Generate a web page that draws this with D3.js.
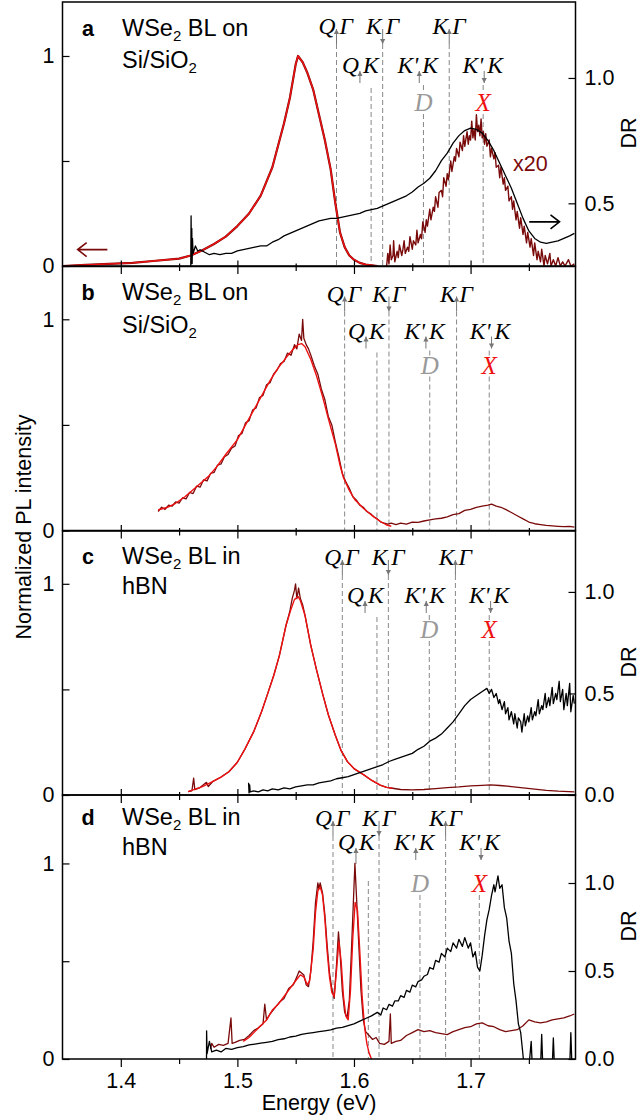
<!DOCTYPE html>
<meta charset="utf-8">
<head>
<style>
  body { margin: 0; background: #fff; }
  svg text { font-family: "Liberation Sans", Arial, sans-serif; }
  .ann { font-family: "Liberation Serif", "Times New Roman", serif; font-style: italic; }
</style>
</head>
<body>
<div id="chart"></div>
<script src="https://d3js.org/d3.v7.min.js"></script>
<script>
// ---- data: [energy (eV), value] ----
// panel a
const aFit = [[1.35,0],[1.37,0.005],[1.39,0.01],[1.41,0.015],[1.43,0.025],[1.45,0.035],[1.46,0.05],[1.47,0.075],[1.48,0.105],[1.49,0.14],[1.50,0.19],[1.51,0.25],[1.52,0.335],[1.53,0.47],[1.54,0.68],[1.545,0.80],[1.55,0.96],[1.552,1.0],[1.556,0.97],[1.56,0.92],[1.565,0.84],[1.57,0.72],[1.575,0.60],[1.58,0.46],[1.584,0.30],[1.588,0.16],[1.592,0.09],[1.596,0.05],[1.60,0.03],[1.605,0.015],[1.61,0.007],[1.62,0]];
const aX20 = [[1.628,0],[1.629,0.06],[1.630,0.01],[1.631,0.10],[1.632,0.03],[1.6335,0.05],[1.634,0.12],[1.635,0.02],[1.637,0.07],[1.638,0.04],[1.639,0.10],[1.641,0.05],[1.642,0.08],[1.643,0.12],[1.644,0.06],[1.646,0.09],[1.647,0.07],[1.648,0.14],[1.650,0.08],[1.651,0.12],[1.653,0.10],[1.654,0.17],[1.655,0.11],[1.657,0.15],[1.658,0.13],[1.659,0.21],[1.661,0.16],[1.662,0.22],[1.663,0.19],[1.665,0.27],[1.666,0.22],[1.668,0.28],[1.669,0.26],[1.670,0.33],[1.672,0.28],[1.673,0.35],[1.675,0.36],[1.676,0.33],[1.677,0.42],[1.679,0.38],[1.680,0.44],[1.681,0.41],[1.683,0.50],[1.684,0.45],[1.686,0.52],[1.687,0.50],[1.688,0.56],[1.690,0.52],[1.691,0.59],[1.693,0.55],[1.694,0.62],[1.695,0.57],[1.697,0.64],[1.698,0.58],[1.699,0.62],[1.700,0.60],[1.701,0.69],[1.702,0.61],[1.703,0.65],[1.704,0.60],[1.705,0.72],[1.706,0.64],[1.707,0.67],[1.708,0.62],[1.709,0.70],[1.710,0.61],[1.711,0.64],[1.712,0.58],[1.713,0.63],[1.714,0.57],[1.716,0.60],[1.717,0.52],[1.718,0.56],[1.720,0.51],[1.721,0.54],[1.722,0.47],[1.724,0.48],[1.725,0.42],[1.726,0.47],[1.728,0.39],[1.729,0.42],[1.730,0.36],[1.732,0.38],[1.733,0.31],[1.735,0.33],[1.736,0.27],[1.737,0.31],[1.739,0.22],[1.740,0.26],[1.742,0.18],[1.743,0.23],[1.745,0.15],[1.746,0.19],[1.748,0.11],[1.749,0.16],[1.751,0.09],[1.752,0.13],[1.754,0.05],[1.755,0.11],[1.757,0.03],[1.758,0.07],[1.760,0.02],[1.761,0.08],[1.763,0],[1.764,0.05],[1.766,0.01],[1.768,0.06],[1.769,0],[1.771,0.03],[1.773,0],[1.775,0.04],[1.777,0],[1.779,0.02],[1.781,0],[1.784,0.03],[1.786,0],[1.789,0.01]];
const aDR = [[1.4600,0.24],[1.4603,0.45],[1.4606,0.26],[1.4609,0.40],[1.4612,0.26],[1.4615,0.36],[1.462,0.30],[1.464,0.33],[1.466,0.31],[1.468,0.315],[1.472,0.305],[1.476,0.295],[1.480,0.30],[1.485,0.295],[1.490,0.30],[1.495,0.30],[1.500,0.31],[1.505,0.315],[1.510,0.32],[1.515,0.325],[1.520,0.33],[1.525,0.33],[1.530,0.345],[1.535,0.355],[1.540,0.37],[1.545,0.38],[1.550,0.39],[1.555,0.40],[1.560,0.41],[1.565,0.42],[1.570,0.43],[1.575,0.435],[1.580,0.44],[1.585,0.44],[1.590,0.445],[1.595,0.45],[1.600,0.455],[1.605,0.46],[1.610,0.47],[1.615,0.475],[1.620,0.48],[1.625,0.49],[1.630,0.50],[1.635,0.51],[1.640,0.52],[1.645,0.53],[1.650,0.545],[1.655,0.565],[1.660,0.58],[1.665,0.60],[1.670,0.63],[1.675,0.67],[1.680,0.70],[1.685,0.74],[1.690,0.77],[1.695,0.79],[1.700,0.80],[1.705,0.795],[1.710,0.78],[1.715,0.75],[1.720,0.71],[1.725,0.66],[1.730,0.61],[1.735,0.56],[1.740,0.50],[1.745,0.44],[1.750,0.39],[1.755,0.36],[1.760,0.345],[1.765,0.34],[1.770,0.345],[1.775,0.35],[1.780,0.36],[1.785,0.37],[1.789,0.38]];

// panel b
const bFit = [[1.432,0.097],[1.44,0.11],[1.447,0.129],[1.455,0.16],[1.465,0.207],[1.475,0.255],[1.482,0.30],[1.49,0.36],[1.50,0.43],[1.507,0.50],[1.514,0.57],[1.521,0.64],[1.528,0.71],[1.535,0.77],[1.542,0.82],[1.548,0.86],[1.552,0.88],[1.555,0.885],[1.558,0.87],[1.563,0.81],[1.568,0.73],[1.573,0.635],[1.578,0.53],[1.584,0.41],[1.588,0.31],[1.591,0.25],[1.596,0.19],[1.601,0.144],[1.608,0.105],[1.615,0.073],[1.622,0.045],[1.628,0.026],[1.632,0.02]];
const bPL = [[1.432,0.09],[1.435,0.11],[1.438,0.10],[1.441,0.12],[1.444,0.115],[1.447,0.135],[1.450,0.13],[1.453,0.155],[1.456,0.15],[1.459,0.18],[1.462,0.175],[1.465,0.21],[1.468,0.205],[1.471,0.24],[1.474,0.235],[1.477,0.27],[1.480,0.275],[1.483,0.31],[1.486,0.315],[1.489,0.35],[1.492,0.36],[1.495,0.39],[1.498,0.40],[1.501,0.45],[1.504,0.46],[1.507,0.51],[1.510,0.52],[1.513,0.57],[1.516,0.58],[1.519,0.63],[1.522,0.64],[1.525,0.69],[1.528,0.70],[1.531,0.74],[1.534,0.76],[1.537,0.79],[1.540,0.80],[1.543,0.84],[1.546,0.83],[1.549,0.88],[1.551,0.86],[1.553,0.93],[1.555,0.90],[1.556,1.0],[1.557,0.91],[1.559,0.88],[1.561,0.86],[1.563,0.83],[1.566,0.78],[1.569,0.74],[1.572,0.67],[1.575,0.62],[1.578,0.54],[1.581,0.50],[1.584,0.42],[1.587,0.35],[1.590,0.27],[1.593,0.23],[1.596,0.20],[1.599,0.16],[1.602,0.145],[1.605,0.12],[1.608,0.11],[1.611,0.09],[1.614,0.08],[1.617,0.065],[1.620,0.055],[1.623,0.04],[1.626,0.035],[1.629,0.03],[1.632,0.035],[1.636,0.028],[1.640,0.035],[1.645,0.03],[1.650,0.04],[1.655,0.038],[1.660,0.045],[1.665,0.05],[1.670,0.055],[1.675,0.058],[1.680,0.065],[1.685,0.075],[1.690,0.08],[1.695,0.095],[1.700,0.10],[1.705,0.11],[1.710,0.115],[1.715,0.12],[1.718,0.125],[1.722,0.115],[1.726,0.11],[1.730,0.10],[1.735,0.085],[1.740,0.07],[1.745,0.055],[1.750,0.04],[1.755,0.032],[1.760,0.028],[1.765,0.024],[1.770,0.022],[1.775,0.02],[1.780,0.018],[1.785,0.02],[1.789,0.016]];

// panel c
const cFit = [[1.4577,0.016],[1.465,0.03],[1.47,0.04],[1.4787,0.063],[1.486,0.085],[1.4927,0.11],[1.50,0.155],[1.5068,0.221],[1.514,0.30],[1.5208,0.395],[1.526,0.48],[1.5313,0.568],[1.536,0.66],[1.5418,0.805],[1.546,0.88],[1.5489,0.925],[1.552,0.94],[1.5541,0.92],[1.558,0.85],[1.5629,0.71],[1.568,0.59],[1.5734,0.473],[1.578,0.38],[1.5839,0.284],[1.589,0.21],[1.5944,0.158],[1.60,0.125],[1.6085,0.095],[1.615,0.07],[1.6225,0.047],[1.628,0.036],[1.633,0.032]];
const cPL = [[1.4577,0.016],[1.461,0.02],[1.4625,0.08],[1.4635,0.025],[1.468,0.035],[1.4735,0.06],[1.475,0.04],[1.4787,0.063],[1.486,0.085],[1.4927,0.11],[1.50,0.155],[1.5068,0.221],[1.514,0.30],[1.5208,0.395],[1.526,0.48],[1.5313,0.568],[1.536,0.66],[1.5418,0.805],[1.545,0.87],[1.547,0.93],[1.549,0.97],[1.5499,1.0],[1.551,0.93],[1.5525,0.98],[1.554,0.93],[1.556,0.90],[1.558,0.85],[1.5629,0.71],[1.568,0.59],[1.5734,0.473],[1.578,0.38],[1.5839,0.284],[1.589,0.21],[1.5944,0.158],[1.60,0.125],[1.6085,0.095],[1.615,0.07],[1.6225,0.047],[1.628,0.036],[1.633,0.032],[1.64,0.026],[1.65,0.024],[1.66,0.026],[1.67,0.03],[1.68,0.035],[1.69,0.038],[1.70,0.043],[1.71,0.046],[1.717,0.048],[1.725,0.045],[1.735,0.04],[1.745,0.034],[1.755,0.028],[1.765,0.022],[1.775,0.018],[1.789,0.015]];
const cDR = [[1.5096,0.06],[1.5100,0.01],[1.5105,0.05],[1.511,0.015],[1.514,0.02],[1.518,0.015],[1.522,0.025],[1.526,0.02],[1.530,0.03],[1.535,0.025],[1.540,0.035],[1.545,0.03],[1.550,0.04],[1.555,0.045],[1.560,0.05],[1.565,0.05],[1.570,0.06],[1.575,0.065],[1.580,0.07],[1.585,0.08],[1.590,0.085],[1.595,0.09],[1.600,0.10],[1.605,0.11],[1.610,0.12],[1.615,0.13],[1.620,0.14],[1.625,0.15],[1.630,0.165],[1.635,0.175],[1.640,0.185],[1.645,0.195],[1.650,0.205],[1.655,0.225],[1.660,0.24],[1.665,0.265],[1.670,0.28],[1.675,0.30],[1.680,0.33],[1.685,0.36],[1.690,0.40],[1.695,0.44],[1.700,0.47],[1.705,0.49],[1.710,0.51],[1.714,0.525],[1.716,0.50],[1.718,0.52],[1.720,0.48],[1.722,0.50],[1.724,0.45],[1.725,0.47],[1.727,0.42],[1.729,0.46],[1.730,0.40],[1.732,0.43],[1.733,0.37],[1.735,0.41],[1.737,0.35],[1.738,0.40],[1.740,0.33],[1.741,0.38],[1.743,0.36],[1.744,0.31],[1.746,0.40],[1.747,0.34],[1.749,0.39],[1.750,0.36],[1.752,0.43],[1.753,0.37],[1.755,0.41],[1.756,0.39],[1.758,0.47],[1.759,0.40],[1.761,0.44],[1.762,0.42],[1.764,0.50],[1.765,0.43],[1.767,0.48],[1.768,0.44],[1.770,0.53],[1.771,0.45],[1.773,0.50],[1.774,0.47],[1.776,0.56],[1.777,0.46],[1.779,0.52],[1.780,0.42],[1.782,0.50],[1.783,0.44],[1.785,0.55],[1.786,0.41],[1.788,0.49],[1.789,0.45]];

// panel d
const dFit = [[1.505,0.09],[1.510,0.11],[1.515,0.14],[1.520,0.17],[1.525,0.20],[1.530,0.25],[1.535,0.28],[1.540,0.32],[1.545,0.36],[1.550,0.40],[1.554,0.43],[1.557,0.42],[1.560,0.38],[1.562,0.40],[1.565,0.56],[1.567,0.75],[1.569,0.86],[1.571,0.88],[1.573,0.84],[1.575,0.72],[1.577,0.55],[1.579,0.42],[1.581,0.34],[1.583,0.32],[1.585,0.45],[1.587,0.60],[1.589,0.50],[1.591,0.32],[1.593,0.22],[1.595,0.20],[1.597,0.35],[1.599,0.62],[1.601,0.80],[1.603,0.76],[1.605,0.55],[1.607,0.32],[1.609,0.17],[1.611,0.08],[1.613,0.03],[1.615,0]];
const dPL = [[1.477,0.05],[1.478,0.08],[1.480,0.06],[1.484,0.075],[1.488,0.07],[1.492,0.08],[1.4945,0.21],[1.4955,0.08],[1.498,0.085],[1.502,0.095],[1.506,0.10],[1.510,0.12],[1.514,0.145],[1.518,0.16],[1.522,0.18],[1.5235,0.28],[1.525,0.20],[1.528,0.23],[1.532,0.26],[1.536,0.29],[1.540,0.31],[1.544,0.36],[1.548,0.38],[1.551,0.42],[1.553,0.45],[1.555,0.44],[1.557,0.43],[1.559,0.38],[1.561,0.37],[1.563,0.45],[1.565,0.60],[1.567,0.80],[1.569,0.90],[1.570,0.87],[1.571,0.90],[1.573,0.85],[1.575,0.74],[1.577,0.58],[1.579,0.44],[1.581,0.36],[1.583,0.31],[1.585,0.48],[1.5867,0.65],[1.588,0.55],[1.590,0.35],[1.592,0.24],[1.594,0.21],[1.596,0.30],[1.598,0.58],[1.6008,1.0],[1.602,0.85],[1.604,0.60],[1.606,0.35],[1.608,0.20],[1.610,0.14],[1.613,0.12],[1.616,0.10],[1.619,0.11],[1.622,0.08],[1.626,0.075],[1.630,0.09],[1.6312,0.23],[1.632,0.08],[1.636,0.09],[1.640,0.095],[1.645,0.12],[1.650,0.135],[1.655,0.15],[1.660,0.14],[1.665,0.145],[1.670,0.135],[1.675,0.13],[1.680,0.125],[1.685,0.14],[1.690,0.15],[1.695,0.16],[1.700,0.165],[1.705,0.18],[1.710,0.185],[1.715,0.17],[1.720,0.165],[1.725,0.15],[1.730,0.14],[1.735,0.145],[1.740,0.15],[1.745,0.17],[1.750,0.20],[1.755,0.19],[1.760,0.185],[1.765,0.19],[1.770,0.20],[1.775,0.205],[1.780,0.21],[1.785,0.22],[1.789,0.23]];
const dDR = [[1.4735,-0.05],[1.4736,0.16],[1.474,0.03],[1.476,0.10],[1.478,0.04],[1.482,0.05],[1.486,0.04],[1.490,0.06],[1.495,0.055],[1.500,0.065],[1.505,0.07],[1.510,0.08],[1.515,0.085],[1.520,0.09],[1.525,0.095],[1.530,0.10],[1.535,0.11],[1.540,0.115],[1.545,0.125],[1.550,0.13],[1.555,0.14],[1.560,0.145],[1.565,0.15],[1.570,0.155],[1.575,0.16],[1.580,0.165],[1.585,0.175],[1.590,0.18],[1.595,0.19],[1.600,0.20],[1.605,0.215],[1.610,0.23],[1.615,0.245],[1.620,0.265],[1.623,0.25],[1.625,0.29],[1.628,0.28],[1.630,0.31],[1.633,0.30],[1.635,0.33],[1.638,0.33],[1.640,0.36],[1.643,0.35],[1.645,0.39],[1.648,0.38],[1.650,0.42],[1.653,0.41],[1.655,0.44],[1.658,0.45],[1.660,0.47],[1.663,0.48],[1.665,0.52],[1.668,0.51],[1.670,0.56],[1.673,0.55],[1.675,0.60],[1.678,0.58],[1.680,0.63],[1.683,0.61],[1.685,0.66],[1.688,0.63],[1.690,0.68],[1.693,0.64],[1.695,0.69],[1.698,0.63],[1.700,0.66],[1.702,0.58],[1.704,0.61],[1.706,0.52],[1.708,0.50],[1.710,0.59],[1.712,0.70],[1.714,0.79],[1.716,0.85],[1.718,0.93],[1.720,0.99],[1.721,0.95],[1.7235,1.04],[1.725,0.97],[1.727,0.99],[1.729,0.86],[1.731,0.80],[1.733,0.67],[1.735,0.60],[1.737,0.43],[1.739,0.33],[1.741,0.20],[1.743,0.15],[1.745,0.02],[1.746,-0.05],[1.750,-0.05],[1.752,0.10],[1.753,-0.05],[1.760,-0.05],[1.761,0.14],[1.762,-0.05],[1.770,-0.05],[1.771,0.12],[1.772,-0.05],[1.785,-0.05],[1.786,0.15],[1.787,-0.05],[1.789,-0.05]];

// transition markers (eV): QΓ, K↓Γ, K↑Γ, QK line, D, X
const aLines = [1.585, 1.6246, 1.6817, 1.6147, 1.6596, 1.7108];
const bLines = [1.592, 1.630, 1.688, 1.6197, 1.665, 1.716];
const cLines = [1.590, 1.6295, 1.687, 1.6197, 1.6646, 1.716];
const dLines = [1.582, 1.6215, 1.6786, 1.6123, 1.6566, 1.7075];
// second-row arrows (eV): Q↑K, K'↑K, K'↓K
const aArrows = [1.6051, 1.656, 1.7117];
const bArrows = [1.6103, 1.6617, 1.718];
const cArrows = [1.6095, 1.662, 1.7172];
const dArrows = [1.6017, 1.653, 1.709];

const xTicks = [1.4, 1.5, 1.6, 1.7];
const xMinor = [1.45, 1.55, 1.65, 1.75];

// ---- layout ----
const W = 641, H = 1118;
const left = 62.5, right = 575.5;
const panelTop = [2, 266.5, 531, 795], panelH = 264;
const fs = 21.5;

const x = d3.scaleLinear().domain([1.35, 1.79]).range([left, right]);

const svg = d3.select("#chart").append("svg")
    .attr("width", W)
    .attr("height", H);

const red = "#ee1111", dark = "#7a0a0a";

function arrowMark(g, xp, y1, y2, up) {
  g.append("line")
    .attr("x1", xp).attr("x2", xp).attr("y1", y1).attr("y2", y2)
    .attr("stroke", "#777").attr("stroke-width", 1);
  const hy = up ? y1 : y2, s = up ? 1 : -1;
  g.append("path")
    .attr("d", `M${xp-2.6},${hy+s*5}L${xp},${hy}L${xp+2.6},${hy+s*5}Z`)
    .attr("fill", "#777");
}

function dashed(g, xp, y1, y2) {
  g.append("line")
    .attr("x1", xp).attr("x2", xp).attr("y1", y1).attr("y2", y2)
    .attr("stroke", "#888").attr("stroke-width", 1)
    .attr("stroke-dasharray", "5,3");
}

function annText(g, xp, y, txt, anchor, color, size) {
  g.append("text").attr("class", "ann")
    .attr("x", xp).attr("y", y)
    .attr("text-anchor", anchor)
    .attr("font-size", size || 23.5)
    .attr("fill", color || "#000")
    .text(txt);
}

function styleAxis(s) {
  s.select(".domain").remove();
  s.selectAll("text").attr("font-size", fs).attr("font-family", "Liberation Sans, Arial, sans-serif");
  s.selectAll("line").attr("stroke-width", 1.2);
}

function drawPanel(i, cfg) {
  const top = panelTop[i], bottom = top + panelH;
  const yL = d3.scaleLinear().domain(cfg.left).range([bottom, top]);
  const yR = cfg.right ? d3.scaleLinear().domain(cfg.right).range([bottom, top]) : null;
  const g = svg.append("g");

  svg.append("clipPath").attr("id", "clip" + i)
    .append("rect").attr("x", left).attr("y", top)
    .attr("width", right - left).attr("height", panelH);

  // transition markers
  const L = cfg.lines, A = cfg.arrows;
  const r1 = top + cfg.rows[0], r2 = top + cfg.rows[1], r3 = top + cfg.rows[2];
  const a1 = r1 - 5, a1b = r1 + 10, a2 = r2 - 2, a2b = r2 + 10;
  const row1 = [["Q", "Γ", L[0], true], ["K", "Γ", L[1], false], ["K", "Γ", L[2], true]];
  row1.forEach(d => {
    const xp = x(d[2]);
    annText(g, xp - 1, r1, d[0], "end");
    annText(g, xp + 3, r1, d[1], "start");
    arrowMark(g, xp, a1, a1b, d[3]);
    dashed(g, xp, a1b, bottom);
  });
  const row2 = [["Q", "K", A[0], true], ["K'", "K", A[1], true], ["K'", "K", A[2], false]];
  row2.forEach(d => {
    const xp = x(d[2]);
    annText(g, xp - 1, r2, d[0], "end");
    annText(g, xp + 3, r2, d[1], "start");
    arrowMark(g, xp, a2, i === 3 && d[0] === "Q" ? a2b + 4 : a2b, d[3]);
  });
  dashed(g, x(L[3]), top + 86, bottom);
  [[L[4], "D", "#999"], [L[5], "X", red]].forEach(d => {
    const xp = x(d[0]);
    annText(g, xp, r3, d[1], "middle", d[2], 25);
    if (cfg.midDash) dashed(g, xp, a2b + 2, r3 - 18);
    dashed(g, xp, r3 + 3, bottom);
  });

  // curves
  const plot = g.append("g").attr("clip-path", `url(#clip${i})`);
  cfg.curves.forEach(c => {
    const ys = c.axis === "R" ? yR : yL;
    const line = d3.line().x(d => x(d[0])).y(d => ys(d[1]));
    plot.append("path").datum(c.data)
      .attr("d", line)
      .attr("fill", "none")
      .attr("stroke", c.color)
      .attr("stroke-width", c.w)
      .attr("stroke-linejoin", "round");
  });

  // frame
  g.append("rect").attr("x", left).attr("y", top)
    .attr("width", right - left).attr("height", panelH)
    .attr("fill", "none").attr("stroke", "#000").attr("stroke-width", 1.5);

  // left axis
  g.append("g").attr("transform", `translate(${left},0)`)
    .call(d3.axisLeft(yL).tickValues([0, 0.5, 1]).tickSize(-7).tickSizeOuter(0).tickPadding(8)
      .tickFormat(d => d === 0.5 ? "" : d3.format("d")(d)))
    .call(styleAxis);

  // right axis
  if (yR) {
    g.append("g").attr("transform", `translate(${right},0)`)
      .call(d3.axisRight(yR).tickValues(cfg.rightTicks).tickSize(-7).tickSizeOuter(0).tickPadding(9)
        .tickFormat(d3.format(".1f")))
      .call(styleAxis);
    g.append("text")
      .attr("transform", `translate(636,${top + 131}) rotate(-90)`)
      .attr("text-anchor", "middle")
      .attr("font-size", fs)
      .text("DR");
  }

  // bottom ticks (outward) and top ticks
  g.append("g").attr("transform", `translate(0,${bottom})`)
    .call(d3.axisBottom(x).tickValues(xTicks).tickSize(8).tickSizeOuter(0).tickPadding(6)
      .tickFormat(i === 3 ? d3.format(".1f") : () => ""))
    .call(styleAxis);
  g.append("g").attr("transform", `translate(0,${bottom})`)
    .call(d3.axisBottom(x).tickValues(xMinor).tickSize(5).tickSizeOuter(0).tickFormat(() => ""))
    .call(styleAxis);
  if (i > 0) {
    g.append("g").attr("transform", `translate(0,${top})`)
      .call(d3.axisTop(x).tickValues(xTicks).tickSize(6).tickSizeOuter(0).tickFormat(() => ""))
      .call(styleAxis);
    g.append("g").attr("transform", `translate(0,${top})`)
      .call(d3.axisTop(x).tickValues(xMinor).tickSize(3).tickSizeOuter(0).tickFormat(() => ""))
      .call(styleAxis);
  }

  // panel letter and sample text
  g.append("text").attr("x", 88).attr("y", top + cfg.title[0])
    .attr("text-anchor", "middle").attr("font-size", fs).attr("font-weight", "bold")
    .text(cfg.letter);
  const t1 = g.append("text").attr("x", 122).attr("y", top + cfg.title[0]).attr("font-size", 23.5);
  t1.append("tspan").text("WSe");
  t1.append("tspan").attr("font-size", 15).attr("dy", 5).text("2");
  t1.append("tspan").attr("dy", -5).text(cfg.onIn);
  const t2 = g.append("text").attr("x", 122).attr("y", top + cfg.title[1]).attr("font-size", 23.5);
  if (cfg.onIn === " BL on") {
    t2.append("tspan").text("Si/SiO");
    t2.append("tspan").attr("font-size", 15).attr("dy", 5).text("2");
  } else {
    t2.text("hBN");
  }

  return { yL, yR, g };
}

const pa = drawPanel(0, {
  letter: "a", onIn: " BL on", title: [34, 66],
  left: [0, 1.257], right: [0.25, 1.303], rightTicks: [0.5, 1.0],
  lines: aLines, arrows: aArrows, rows: [32, 71, 109], midDash: true,
  curves: [
    { data: aX20, color: dark, w: 1.4, axis: "L" },
    { data: aFit, color: dark, w: 2.2, axis: "L" },
    { data: aFit, color: red, w: 1.4, axis: "L" },
    { data: aDR, color: "#000", w: 1.3, axis: "R" }
  ]
});
drawPanel(1, {
  letter: "b", onIn: " BL on", title: [33, 66],
  left: [0, 1.25], right: null,
  lines: bLines, arrows: bArrows, rows: [35, 72, 107], midDash: true,
  curves: [
    { data: bPL, color: dark, w: 1.3, axis: "L" },
    { data: bFit, color: red, w: 1.4, axis: "L" }
  ]
});
drawPanel(2, {
  letter: "c", onIn: " BL in", title: [33, 63],
  left: [0, 1.25], right: [0, 1.3], rightTicks: [0, 0.5, 1.0],
  lines: cLines, arrows: cArrows, rows: [34, 72, 107], midDash: true,
  curves: [
    { data: cPL, color: dark, w: 1.3, axis: "L" },
    { data: cFit, color: red, w: 1.4, axis: "L" },
    { data: cDR, color: "#000", w: 1.3, axis: "R" }
  ]
});
drawPanel(3, {
  letter: "d", onIn: " BL in", title: [30, 60],
  left: [0, 1.35], right: [0, 1.5], rightTicks: [0, 0.5, 1.0],
  lines: dLines, arrows: dArrows, rows: [31, 55, 97], midDash: false,
  curves: [
    { data: dPL, color: dark, w: 1.3, axis: "L" },
    { data: dFit, color: red, w: 1.4, axis: "L" },
    { data: dDR, color: "#000", w: 1.3, axis: "R" }
  ]
});

// panel a extras: axis arrows and x20 label
function chevArrow(x1, x2, y, color) {
  const s = x2 > x1 ? -1 : 1;
  svg.append("path")
    .attr("d", `M${x1},${y}L${x2},${y}M${x2 + s*9},${y-7}L${x2},${y}L${x2 + s*9},${y+7}`)
    .attr("fill", "none").attr("stroke", color).attr("stroke-width", 1.6);
}
chevArrow(x(1.3885), x(1.363), pa.yL(0.078), dark);
chevArrow(x(1.7503), x(1.7763), pa.yR(0.426), "#000");
svg.append("text").attr("x", x(1.7364)).attr("y", pa.yL(0.45))
  .attr("font-size", fs).attr("fill", dark).text("x20");

// shared axis titles
svg.append("text")
  .attr("transform", "translate(31,527) rotate(-90)")
  .attr("text-anchor", "middle").attr("font-size", fs)
  .text("Normalized PL intensity");
svg.append("text")
  .attr("x", 319).attr("y", 1110)
  .attr("text-anchor", "middle").attr("font-size", fs)
  .text("Energy (eV)");
</script>
</body>
